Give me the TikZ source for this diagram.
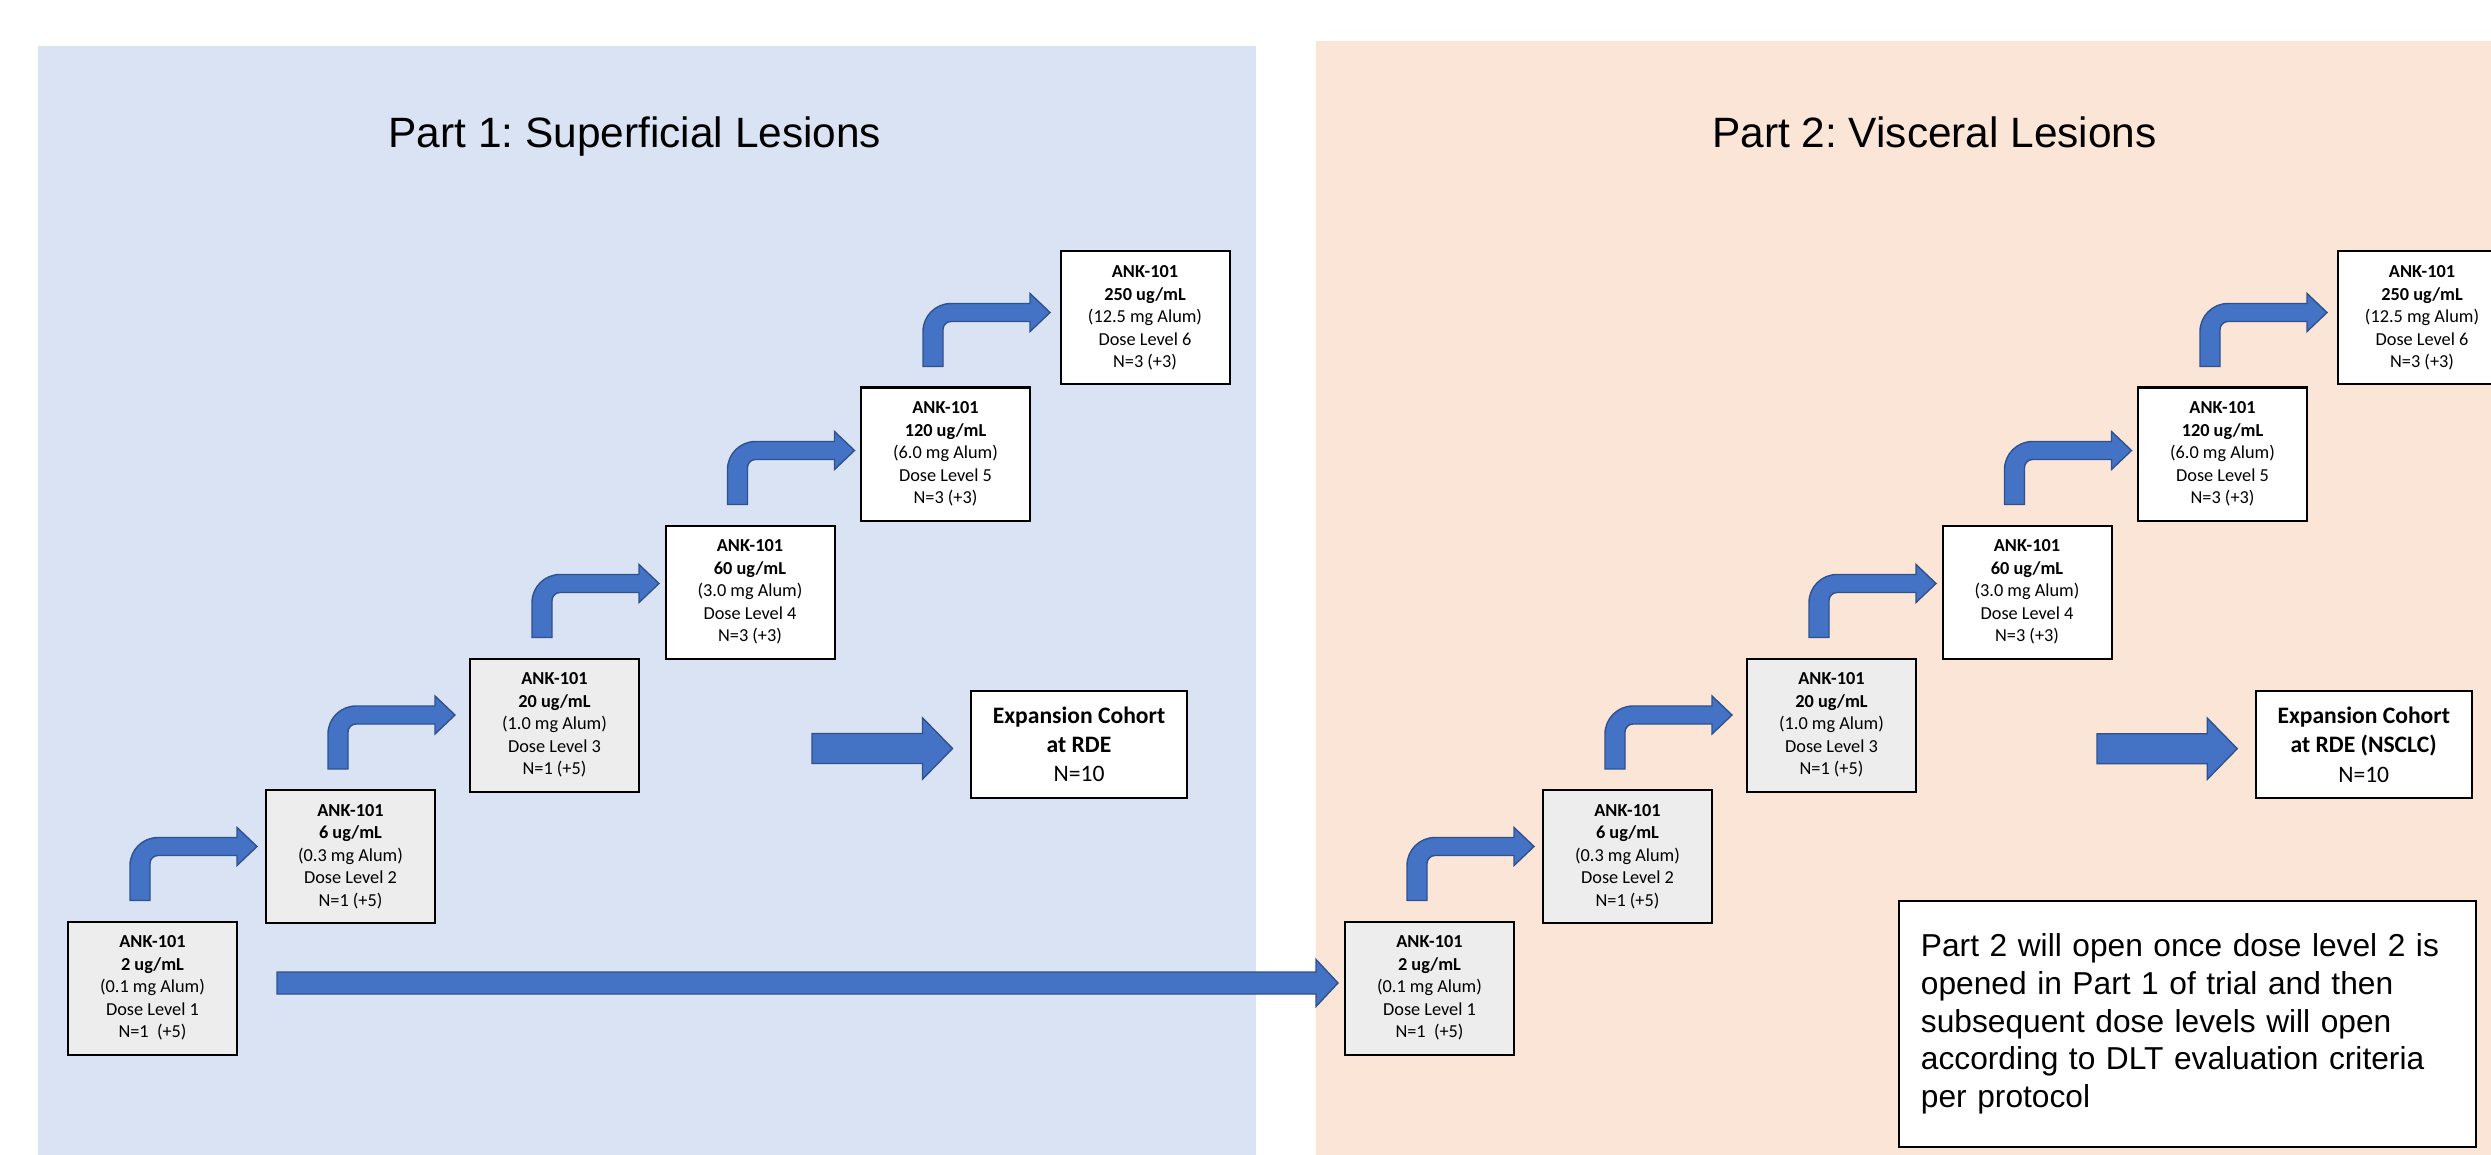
\documentclass[tikz,border=0pt]{standalone}
\usepackage{fontspec}
\setmainfont{Liberation Sans}
\newfontfamily\carlito{Carlito}
\usetikzlibrary{calc}
\frenchspacing
\definecolor{panelblue}{HTML}{DAE3F3}
\definecolor{panelpeach}{HTML}{FBE5D6}
\definecolor{arrowfill}{HTML}{4472C4}
\definecolor{arrowline}{HTML}{2F528F}
\definecolor{boxgray}{HTML}{EDEDED}
\newcommand{\dl}[4]{\textbf{ANK-101}\\\textbf{#1}\\(#2)\\Dose Level #3\\#4}
\newcommand{\bentarr}[1]{%
  \draw[blockarrow, shift={($(#1.north west)+(62,-21)$)}]
    (0,0) -- (0,-35) arc[start angle=180,end angle=270,radius=28]
    -- (107,-63) -- (107,-73) -- (127,-54) -- (107,-35) -- (107,-45)
    -- (28,-45) arc[start angle=270,end angle=180,radius=8] -- (20,0) -- cycle;}
\newcommand{\strarr}[5]{%
  \draw[blockarrow] ($(#1)+(0,-#3)$) -- ($(#2)+(-#5,-#3)$) -- ($(#2)+(-#5,-#4)$)
    -- (#2) -- ($(#2)+(-#5,#4)$) -- ($(#2)+(-#5,#3)$) -- ($(#1)+(0,#3)$) -- cycle;}
\tikzset{
  dosebox/.style={draw=black, line width=1pt, minimum width=84.5pt, minimum height=66.5pt,
    inner sep=0pt, outer sep=0pt, align=center, font=\carlito\fontsize{9.15}{11.25}\selectfont},
  graybox/.style={dosebox, fill=boxgray},
  whitebox/.style={dosebox, fill=white},
  expbox/.style={draw=black, line width=1pt, fill=white, minimum width=108pt, minimum height=53.5pt,
    inner sep=0pt, outer sep=0pt, align=center, font=\carlito\fontsize{11.8}{14.6}\selectfont},
  notebox/.style={draw=black, line width=1pt, fill=white, text width=266.75pt, inner xsep=10.75pt,
    inner ysep=0pt, minimum height=123pt, outer sep=0pt, align=left,
    font=\fontsize{15.85}{18.85}\selectfont},
  titletext/.style={anchor=base, inner sep=0pt, font=\fontsize{21.2}{25}\selectfont},
  blockarrow/.style={fill=arrowfill, draw=arrowline, line width=0.7pt, line join=miter},
}
\begin{document}
\begin{tikzpicture}[x=0.5pt,y=-0.5pt]
\useasboundingbox (0,0) rectangle (2491,1155);
\clip (0,0) rectangle (2491,1155);
\fill[panelblue] (38,46) rectangle (1256,1155);
\fill[panelpeach] (1316,41) rectangle (2491,1155);
\node[titletext] (t1) at (635,148) {Part 1: Superficial Lesions};
\node[titletext] (t2) at (1934.5,148) {Part 2: Visceral Lesions};
% Part 1
\node[graybox] (a1) at (152.5,988) {\dl{2 ug/mL}{0.1 mg Alum}{1}{N=1\ \ (+5)}};
\node[graybox] (a2) at (350.5,856.5) {\dl{6 ug/mL}{0.3 mg Alum}{2}{N=1 (+5)}};
\node[graybox] (a3) at (554.5,725) {\dl{20 ug/mL}{1.0 mg Alum}{3}{N=1 (+5)}};
\node[whitebox] (a4) at (750,592) {\dl{60 ug/mL}{3.0 mg Alum}{4}{N=3 (+3)}};
\node[whitebox] (a5) at (945.5,454) {\dl{120 ug/mL}{6.0 mg Alum}{5}{N=3 (+3)}};
\node[whitebox] (a6) at (1145,318) {\dl{250 ug/mL}{12.5 mg Alum}{6}{N=3 (+3)}};
% Part 2
\node[graybox] (c1) at (1429.5,988) {\dl{2 ug/mL}{0.1 mg Alum}{1}{N=1\ \ (+5)}};
\node[graybox] (c2) at (1627.5,856.5) {\dl{6 ug/mL}{0.3 mg Alum}{2}{N=1 (+5)}};
\node[graybox] (c3) at (1831.5,725) {\dl{20 ug/mL}{1.0 mg Alum}{3}{N=1 (+5)}};
\node[whitebox] (c4) at (2027,592) {\dl{60 ug/mL}{3.0 mg Alum}{4}{N=3 (+3)}};
\node[whitebox] (c5) at (2222.5,454) {\dl{120 ug/mL}{6.0 mg Alum}{5}{N=3 (+3)}};
\node[whitebox] (c6) at (2422,318) {\dl{250 ug/mL}{12.5 mg Alum}{6}{N=3 (+3)}};
% bent arrows
\bentarr{a1}\bentarr{a2}\bentarr{a3}\bentarr{a4}\bentarr{a5}
\bentarr{c1}\bentarr{c2}\bentarr{c3}\bentarr{c4}\bentarr{c5}
% expansion cohorts
\node[expbox] (e1) at (1079,744.5) {\textbf{Expansion Cohort}\\\textbf{at RDE}\\N=10};
\node[expbox] (e2) at (2363.7,744.7) {\textbf{Expansion Cohort}\\\textbf{at RDE (NSCLC)}\\N=10};
\coordinate (x1s) at (812,748.5);
\coordinate (x1t) at ($(e1.west)+(-18.5,4)$);
\strarr{x1s}{x1t}{15}{30.7}{30}
\coordinate (x2s) at (2097,748.7);
\coordinate (x2t) at ($(e2.west)+(-18.5,4)$);
\strarr{x2s}{x2t}{15}{30.7}{30}
% long arrow to part 2
\coordinate (ls) at ($(a1.east)+(40,-5)$);
\coordinate (lt) at ($(c1.west)+(-7,-5)$);
\strarr{ls}{lt}{11}{23.5}{22}
% note
\node[notebox] (n) at (2187.7,1024) {Part 2 will open once dose level 2 is\\opened in Part 1 of trial and then\\subsequent dose levels will open\\according to DLT evaluation criteria\\per protocol};
\end{tikzpicture}
\end{document}
